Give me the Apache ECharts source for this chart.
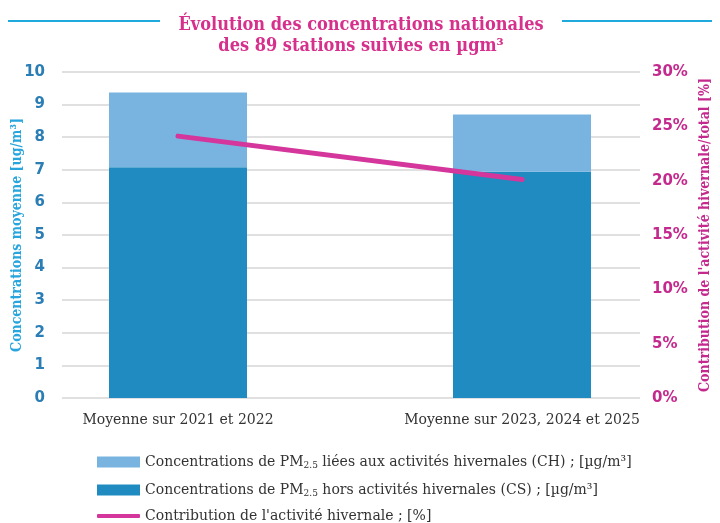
<!DOCTYPE html>
<html><head><meta charset="utf-8">
<script src="https://cdn.jsdelivr.net/npm/echarts@6/dist/echarts.min.js"></script>
<style>html,body{margin:0;padding:0;background:#fff}#c{width:720px;height:523px}</style>
</head><body><div id="c"></div>
<script>
const categories = ['Moyenne sur 2021 et 2022', 'Moyenne sur 2023, 2024 et 2025'];
const csValues = [7.08, 6.94];
const chValues = [2.29, 1.76];
const contribValues = [24.1, 20.1];
const leftTicks = [0, 10, 1];
const rightTicks = [0, 30, 5];
const names = {
  ch: 'Concentrations de PM2.5 liées aux activités hivernales (CH) ; [µg/m³]',
  cs: 'Concentrations de PM2.5 hors activités hivernales (CS) ; [µg/m³]',
  line: "Contribution de l'activité hivernale ; [%]"
};
const chart = echarts.init(document.getElementById('c'));
const gTop = 72, gBottom = 125;
const serif = '"DejaVu Serif", "Liberation Serif", serif';
const legendText = { color: '#333', fontSize: 14, fontFamily: serif,
  rich: { sub: { fontSize: 9, fontFamily: serif, color: '#333', padding: [7, 0, 0, 0] } } };
const fmt = function (n) { return n.replace('PM2.5', 'PM{sub|2.5}'); };
chart.setOption({
  animation: false,
  title: {
    text: 'Évolution des concentrations nationales\ndes 89 stations suivies en µgm³',
    left: 356, top: 10, textAlign: 'center',
    textStyle: { color: '#d62f8c', fontSize: 18, fontWeight: 'bold', lineHeight: 21, align: 'center',
      fontFamily: '"DejaVu Serif Condensed", "DejaVu Serif", serif' }
  },
  graphic: [
    { type: 'line', shape: { x1: 8, y1: 21, x2: 160, y2: 21 }, style: { stroke: '#1fa9dc', lineWidth: 2 } },
    { type: 'line', shape: { x1: 562, y1: 21, x2: 712, y2: 21 }, style: { stroke: '#1fa9dc', lineWidth: 2 } }
  ],
  grid: [
    { left: 62, right: 80, top: gTop, bottom: gBottom, outerBoundsMode: 'none', containLabel: false },
    { left: 6, right: 26, top: gTop, bottom: gBottom, outerBoundsMode: 'none', containLabel: false }
  ],
  xAxis: [
    { type: 'category', gridIndex: 0, data: categories, show: false },
    { type: 'category', gridIndex: 1, data: categories,
      axisLine: { show: false }, axisTick: { show: false },
      axisLabel: { color: '#333', fontSize: 14, margin: 15, fontFamily: serif } }
  ],
  yAxis: [
    { type: 'value', gridIndex: 0, min: leftTicks[0], max: leftTicks[1], interval: leftTicks[2],
      name: 'Concentrations moyenne [ug/m³]', nameLocation: 'middle', nameGap: 38, nameRotate: 90,
      nameMoveOverlap: false,
      nameTextStyle: { color: '#27a5dc', fontWeight: 'bold', fontSize: 14, fontFamily: '"DejaVu Serif Condensed", serif' },
      axisLine: { show: false }, axisTick: { show: false },
      axisLabel: { color: '#2a7db5', fontWeight: 'bold', fontSize: 15, margin: 17, fontFamily: '"DejaVu Sans", sans-serif' },
      splitLine: { lineStyle: { color: '#d6d6d6', width: 1.5 } } },
    { type: 'value', gridIndex: 0, position: 'right', min: rightTicks[0], max: rightTicks[1], interval: rightTicks[2],
      name: "Contribution de l'activité hivernale/total [%]", nameLocation: 'middle', nameGap: 58, nameRotate: 90,
      nameTextStyle: { color: '#c42a8e', fontWeight: 'bold', fontSize: 14, fontFamily: '"DejaVu Serif Condensed", serif' },
      axisLine: { show: false }, axisTick: { show: false }, splitLine: { show: false },
      axisLabel: { formatter: '{value}%', color: '#c42a8e', fontWeight: 'bold', fontSize: 15, margin: 12, fontFamily: '"DejaVu Sans", sans-serif' } },
    { type: 'value', gridIndex: 1, min: leftTicks[0], max: leftTicks[1], show: false },
    { type: 'value', gridIndex: 1, min: rightTicks[0], max: rightTicks[1], show: false }
  ],
  legend: [
    { left: 92, top: 450, itemWidth: 43, itemHeight: 11, icon: 'rect', data: [names.ch], formatter: fmt, textStyle: legendText },
    { left: 92, top: 478, itemWidth: 43, itemHeight: 11, icon: 'rect', data: [names.cs], formatter: fmt, textStyle: legendText },
    { left: 92, top: 504, itemWidth: 43, itemHeight: 4, icon: 'roundRect', data: [names.line], formatter: fmt, textStyle: legendText }
  ],
  series: [
    { name: names.cs, type: 'bar', stack: 'c', xAxisIndex: 1, yAxisIndex: 2, data: csValues,
      barWidth: 138, itemStyle: { color: '#1f8bc1' } },
    { name: names.ch, type: 'bar', stack: 'c', xAxisIndex: 1, yAxisIndex: 2, data: chValues,
      barWidth: 138, itemStyle: { color: '#79b3df' } },
    { name: names.line, type: 'line', xAxisIndex: 1, yAxisIndex: 3, data: contribValues,
      symbol: 'none', lineStyle: { color: '#d4369b', width: 5, cap: 'round' }, itemStyle: { color: '#d4369b' } }
  ]
});
</script></body></html>
